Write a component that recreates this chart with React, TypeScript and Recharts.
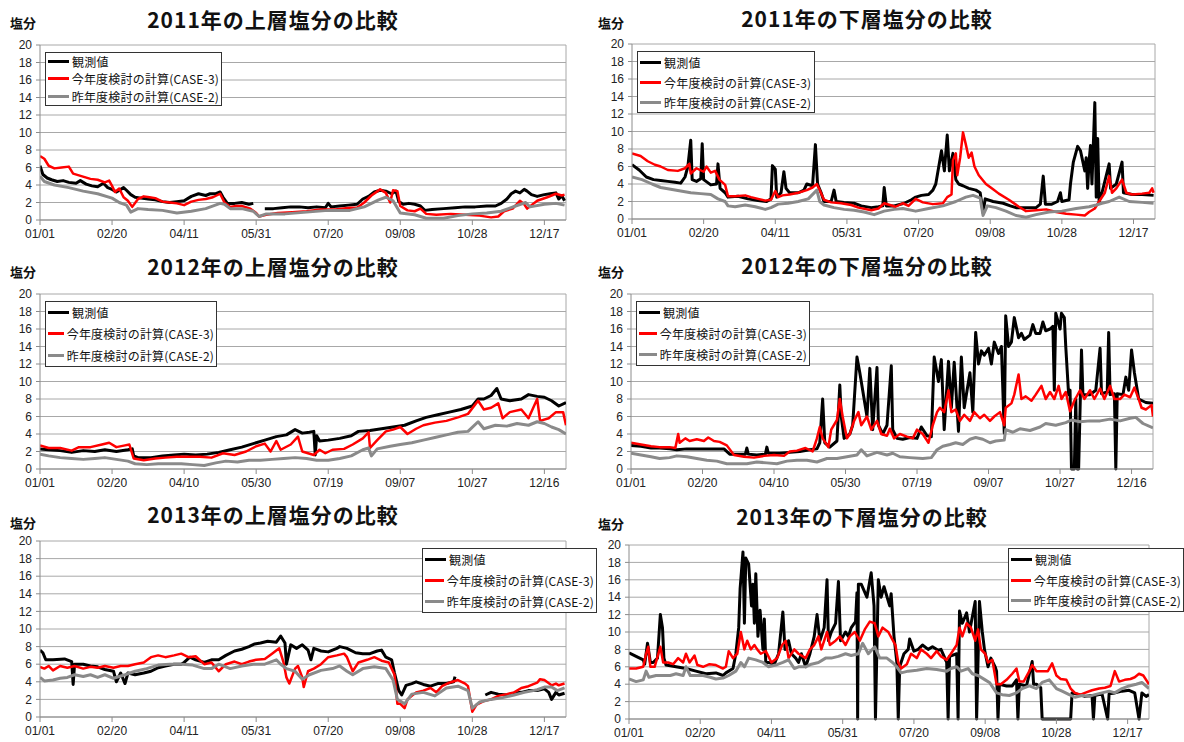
import React from "react";
import {
  LineChart,
  Line,
  XAxis,
  YAxis,
  CartesianGrid,
  Legend,
  ReferenceLine,
} from "recharts";

type Pt = [number, number | null];

// x ticks are every 50 days from 01/01
const xTicks = [0, 50, 100, 150, 200, 250, 300, 350];
const yTicks = [0, 2, 4, 6, 8, 10, 12, 14, 16, 18, 20];
const labels2011 = ["01/01", "02/20", "04/11", "05/31", "07/20", "09/08", "10/28", "12/17"];
const labels2012 = ["01/01", "02/20", "04/10", "05/30", "07/19", "09/07", "10/27", "12/16"];
const labels2013 = ["01/01", "02/20", "04/11", "05/31", "07/20", "09/08", "10/28", "12/17"];

const seriesNames = ["観測値", "今年度検討の計算(CASE-3)", "昨年度検討の計算(CASE-2)"];

// ---- 2011 upper layer
const obs2011U: Pt[] = [[0,6.2],[2,5.2],[5,4.8],[8,4.6],[12,4.4],[16,4.5],[20,4.3],[25,4.2],[28,4.5],[32,4.1],[36,3.9],[40,3.8],[44,4.2],[47,3.7],[50,3.5],[53,3.2],[56,3.5],[58,3.7],[60,3.4],[63,2.9],[66,2.6],[70,2.5],[75,2.4],[80,2.3],[85,2.1],[90,2.0],[95,2.1],[100,2.2],[105,2.7],[110,3.0],[115,2.8],[118,3.0],[122,3.0],[125,3.2],[127,2.6],[130,1.9],[135,1.9],[140,2.0],[145,1.8],[148,1.9],[150,null],[156,1.3],[162,1.3],[168,1.4],[174,1.5],[180,1.5],[186,1.4],[192,1.5],[198,1.4],[200,1.9],[202,1.5],[208,1.6],[214,1.7],[220,1.8],[224,2.4],[228,2.7],[232,3.2],[236,3.4],[240,3.3],[244,3.0],[247,3.3],[249,2.1],[252,1.8],[256,1.9],[260,1.8],[264,1.6],[267,1.1],[272,1.2],[280,1.3],[288,1.4],[295,1.5],[302,1.5],[310,1.6],[316,1.6],[320,1.9],[324,2.4],[327,3.0],[330,3.3],[333,3.1],[336,3.5],[338,3.3],[341,2.9],[345,2.7],[350,2.9],[354,3.0],[358,3.1],[360,2.4],[362,2.8],[364,2.2]];
const cur2011U: Pt[] = [[0,7.3],[3,7.0],[6,6.2],[10,5.9],[15,6.0],[20,6.1],[23,5.3],[27,5.1],[31,4.9],[35,4.7],[40,4.6],[45,4.3],[48,4.5],[50,3.9],[52,3.2],[55,3.6],[58,2.6],[61,2.2],[64,1.5],[68,2.4],[72,2.7],[76,2.6],[80,2.5],[85,2.1],[90,2.0],[95,1.9],[100,1.7],[105,2.1],[110,2.3],[115,2.4],[120,2.6],[125,3.0],[128,2.0],[132,1.5],[136,1.6],[140,1.6],[146,1.3],[150,0.8],[152,0.4],[157,0.6],[165,0.8],[175,0.9],[185,1.0],[195,1.2],[205,1.2],[215,1.4],[220,1.4],[225,2.0],[230,2.8],[236,3.5],[240,3.1],[243,2.0],[245,3.4],[248,3.3],[250,1.6],[255,1.1],[260,1.0],[264,1.3],[268,0.7],[275,0.6],[285,0.7],[295,0.6],[305,0.5],[313,0.3],[318,0.4],[322,1.0],[328,1.3],[333,2.2],[336,1.8],[338,1.3],[345,2.2],[352,2.6],[358,3.0],[362,2.8],[364,2.9]];
const prev2011U: Pt[] = [[0,5.0],[3,4.4],[10,4.0],[20,3.7],[30,3.3],[40,3.0],[50,2.5],[55,2.0],[60,1.7],[63,0.9],[68,1.3],[75,1.2],[85,1.1],[95,0.8],[105,1.0],[115,1.3],[125,1.9],[128,1.8],[132,1.3],[140,1.3],[148,1.0],[152,0.4],[157,0.7],[170,0.7],[185,0.9],[200,1.1],[215,1.1],[225,1.5],[235,2.3],[240,2.6],[245,2.2],[250,0.8],[260,0.6],[268,0.2],[280,0.2],[290,0.5],[300,0.7],[310,0.8],[320,1.0],[330,1.6],[337,2.0],[340,1.5],[350,1.8],[358,1.9],[364,1.7]];

// ---- 2011 lower layer
const obs2011L: Pt[] = [[0,6.2],[5,5.6],[10,4.8],[15,4.5],[20,4.4],[25,4.3],[30,4.2],[34,4.1],[37,4.8],[39,6.0],[41,9.0],[42,4.5],[45,4.3],[48,4.6],[49,8.6],[50,4.5],[55,3.9],[59,4.0],[60,6.3],[61.5,3.5],[65,3.0],[67,2.5],[74,2.6],[81,2.3],[88,2.1],[94,2.0],[97,2.3],[98,6.1],[100,5.7],[101,2.5],[104,3.0],[106,5.4],[107.5,3.5],[110,3.0],[116,3.0],[120,3.3],[122,4.0],[126,3.8],[128,8.5],[129.5,4.0],[132,3.0],[134,2.0],[139,2.0],[141,3.3],[142.5,2.0],[148,1.9],[155,1.8],[160,1.5],[167,1.3],[172,1.4],[175,1.5],[176,3.6],[177.5,1.5],[183,1.5],[190,1.8],[195,2.2],[198,2.5],[202,2.7],[207,2.8],[210,3.3],[212,4.0],[216,7.8],[218,5.5],[220,9.6],[221.5,5.5],[224,7.5],[226,4.5],[228,4.0],[231,3.8],[235,3.5],[240,3.3],[243,3.0],[245,0.7],[246.5,2.3],[252,2.0],[259,1.8],[264,1.5],[268,1.3],[275,1.3],[282,1.3],[285,1.7],[287,4.9],[288.5,1.7],[293,1.7],[297,2.0],[299,3.0],[300,2.0],[305,2.2],[306,4.0],[308,6.5],[311,8.3],[313,7.8],[316,5.5],[317,7.0],[318,3.5],[319,6.6],[320,8.4],[321,4.0],[323,13.3],[324,2.5],[325,9.2],[326,2.0],[328,3.0],[333,6.3],[334,3.5],[338,4.0],[342,6.5],[343,3.0],[349,2.8],[356,2.8],[364,2.7]];
const cur2011L: Pt[] = [[0,7.5],[6,7.2],[11,6.6],[16,6.2],[20,6.0],[25,5.6],[32,5.5],[37,5.8],[40,6.3],[41,5.2],[45,5.8],[50,5.4],[52,6.0],[55,5.3],[58,5.5],[61,4.5],[65,3.9],[67,2.6],[72,2.6],[79,2.7],[83,2.5],[88,2.3],[93,2.1],[97,2.2],[100,3.2],[102,2.5],[105,2.7],[110,2.8],[116,3.0],[122,3.3],[126,3.6],[129,4.0],[131,3.3],[134,2.2],[139,1.9],[146,1.8],[153,1.6],[158,1.3],[167,1.0],[172,1.2],[176,1.8],[180,1.6],[184,1.4],[189,1.8],[193,1.5],[198,2.3],[203,1.9],[210,1.7],[217,1.8],[220,2.5],[223,2.8],[224,6.7],[226,7.5],[227,5.0],[229,7.0],[231,9.9],[233,8.5],[235,7.0],[237,7.6],[239,6.0],[242,5.0],[247,4.0],[252,3.4],[256,2.9],[263,2.2],[270,1.4],[275,0.9],[282,1.0],[289,1.1],[296,0.8],[303,0.6],[310,0.5],[316,0.4],[319,0.8],[323,1.2],[326,2.0],[330,3.0],[333,4.9],[335,3.0],[338,3.5],[342,4.5],[345,3.0],[349,2.8],[356,2.9],[361,3.0],[363,3.5],[364,3.0]];
const prev2011L: Pt[] = [[0,4.8],[7,4.5],[14,4.0],[20,3.6],[27,3.4],[34,3.2],[41,3.0],[48,2.9],[55,2.8],[60,2.3],[65,2.0],[67,1.5],[72,1.4],[79,1.6],[86,1.4],[93,1.1],[97,1.3],[102,1.7],[109,1.8],[116,2.0],[123,2.3],[129,3.3],[131,2.0],[134,1.6],[141,1.3],[148,1.1],[155,1.0],[162,0.8],[169,0.5],[176,0.9],[183,1.1],[189,1.2],[198,0.9],[207,1.2],[217,1.5],[226,2.0],[233,2.5],[238,2.7],[243,2.4],[245,0.4],[248,1.5],[254,1.3],[261,0.9],[268,0.4],[275,0.2],[282,0.5],[291,0.8],[300,0.9],[310,1.2],[319,1.4],[324,1.6],[328,1.8],[333,2.0],[340,2.5],[347,2.0],[356,1.9],[364,1.8]];

// ---- 2012 upper layer
const obs2012U: Pt[] = [[0,2.3],[6,2.2],[14,2.1],[22,1.9],[30,2.1],[38,2.0],[45,2.2],[53,2.0],[61,2.2],[64,2.3],[65,1.5],[68,1.3],[77,1.3],[85,1.5],[93,1.6],[100,1.7],[108,1.6],[116,1.7],[124,1.9],[132,2.2],[140,2.5],[148,2.9],[156,3.3],[164,3.7],[171,3.9],[177,4.5],[182,4.1],[187,4.2],[190,4.3],[191,1.6],[192,3.8],[194,3.2],[200,3.3],[208,3.5],[216,3.8],[221,4.3],[229,4.4],[237,4.6],[245,4.8],[253,5.0],[261,5.5],[268,5.9],[276,6.2],[284,6.5],[292,6.8],[300,7.2],[304,8.0],[308,8.0],[313,8.4],[317,9.2],[320,8.0],[326,7.8],[334,8.0],[339,8.5],[345,8.3],[350,8.2],[355,7.8],[360,7.2],[365,7.6]];
const cur2012U: Pt[] = [[0,2.7],[6,2.4],[14,2.4],[22,2.1],[27,2.5],[35,2.5],[43,2.8],[48,3.0],[53,2.5],[59,2.7],[62,2.8],[65,1.2],[72,1.0],[80,1.2],[87,1.3],[95,1.4],[103,1.4],[111,1.4],[119,1.3],[127,1.8],[135,1.6],[143,2.0],[150,2.6],[156,2.9],[160,2.0],[164,3.2],[167,2.2],[174,2.8],[179,3.7],[182,2.0],[186,1.8],[190,1.6],[194,2.2],[198,1.8],[203,2.2],[211,2.3],[217,2.8],[224,3.5],[228,4.2],[229,2.4],[234,3.3],[240,4.3],[245,4.5],[250,4.8],[255,4.0],[261,4.6],[266,5.0],[274,5.3],[282,5.5],[290,5.9],[297,6.3],[304,7.8],[308,6.8],[313,7.0],[318,7.5],[321,5.8],[326,6.5],[334,6.8],[339,5.8],[345,8.0],[347,5.5],[353,5.8],[358,6.5],[363,6.5],[365,5.0]];
const prev2012U: Pt[] = [[0,1.7],[6,1.5],[14,1.3],[22,1.2],[30,1.1],[38,1.2],[45,1.3],[53,1.1],[61,0.9],[66,0.6],[74,0.5],[82,0.6],[90,0.6],[98,0.6],[106,0.5],[114,0.4],[122,0.7],[129,0.9],[137,0.8],[145,1.0],[153,1.0],[161,1.1],[169,1.2],[177,1.3],[185,1.2],[192,1.0],[200,1.0],[208,1.2],[216,1.5],[224,2.2],[228,2.4],[230,1.5],[234,2.3],[243,2.6],[250,2.8],[258,3.0],[266,3.3],[274,3.6],[282,3.9],[290,4.2],[297,4.3],[304,5.4],[308,4.6],[316,5.0],[324,4.9],[331,5.2],[339,5.0],[345,5.4],[350,5.2],[355,4.8],[360,4.5],[365,4.0]];

// ---- 2012 lower layer
const obs2012L: Pt[] = [[0,2.7],[7,2.6],[14,2.4],[20,2.4],[27,2.3],[32,2.2],[39,2.3],[46,2.3],[53,2.3],[60,2.3],[65,2.3],[69,1.7],[76,1.7],[80,1.7],[81,2.4],[82,1.7],[88,1.6],[94,1.7],[95,2.5],[96,1.8],[104,1.8],[111,1.9],[118,2.0],[125,2.2],[130,2.3],[132,3.0],[134,8.0],[135.5,3.0],[139,2.5],[144,3.2],[146,9.6],[147,6.0],[149,3.5],[153,4.0],[155,5.0],[158,12.8],[160,11.0],[162,9.0],[165,6.0],[167,11.5],[169,4.5],[172,11.6],[173,5.0],[176,4.0],[179,5.0],[182,11.8],[183,4.5],[186,3.5],[190,3.4],[195,3.6],[200,3.5],[203,4.8],[207,3.8],[210,3.7],[212,12.8],[215,10.0],[217,12.5],[219,4.5],[222,12.3],[224,7.0],[226,12.2],[229,4.3],[231,12.8],[233,7.0],[237,11.0],[239,6.5],[241,15.6],[243,12.0],[245,13.5],[247,13.0],[250,13.8],[252,12.0],[254,14.5],[257,13.2],[259,14.0],[261,4.1],[262,17.5],[264,14.0],[266,14.5],[268,17.3],[271,15.0],[273,15.5],[275,14.8],[279,15.3],[281,16.5],[283,15.5],[286,15.5],[288,16.8],[290,15.8],[293,16.0],[295,16.3],[296,9.0],[297,17.8],[300,16.0],[301,17.8],[303,17.3],[304,14.0],[306,8.5],[307,9.0],[308,0],[310,0],[311,8.0],[312,0],[313,0],[315,13.6],[316,8.5],[321,8.5],[325,9.0],[328,13.8],[329,8.6],[333,8.8],[334,15.6],[335,8.5],[338,8.6],[339,0],[340,8.6],[344,8.5],[346,10.5],[348,9.0],[350,13.6],[352,11.0],[355,8.0],[360,7.6],[365,7.5]];
const cur2012L: Pt[] = [[0,3.0],[7,2.8],[14,2.6],[20,2.5],[27,2.5],[31,2.4],[33,4.0],[34,3.0],[38,3.5],[41,3.2],[46,3.4],[51,3.2],[54,3.6],[58,3.2],[62,3.1],[67,2.7],[72,1.6],[79,1.4],[86,1.3],[93,1.5],[100,1.6],[107,1.5],[111,2.0],[116,2.1],[122,2.4],[127,2.0],[130,3.5],[132,4.8],[134,3.5],[138,2.5],[140,4.5],[144,5.6],[146,8.0],[148,6.0],[151,3.5],[153,4.0],[156,5.5],[159,6.5],[161,5.0],[165,6.0],[168,4.5],[172,5.5],[175,4.0],[179,3.8],[181,4.6],[184,3.5],[188,4.0],[193,3.7],[197,3.5],[200,4.5],[204,4.0],[208,3.0],[211,5.0],[214,6.5],[216,7.0],[219,6.5],[222,9.0],[224,6.5],[227,6.8],[230,5.5],[233,6.2],[237,5.5],[240,6.5],[244,5.8],[247,6.2],[251,5.5],[254,6.0],[258,6.5],[261,5.0],[262,7.0],[266,7.5],[268,8.5],[271,10.8],[273,8.0],[276,8.3],[280,7.8],[283,8.5],[287,9.5],[290,8.0],[293,8.8],[296,8.0],[299,9.5],[301,8.0],[304,8.8],[307,6.6],[310,7.8],[314,9.0],[317,8.0],[321,9.0],[324,8.0],[328,9.2],[331,8.0],[335,9.5],[338,8.0],[342,8.0],[345,8.5],[349,8.2],[352,9.3],[355,8.0],[357,7.0],[360,6.8],[364,7.3],[365,6.0]];
const prev2012L: Pt[] = [[0,1.8],[7,1.6],[14,1.4],[20,1.2],[27,1.3],[32,1.5],[39,1.4],[46,1.2],[53,1.0],[60,0.9],[67,0.6],[74,0.6],[81,0.6],[88,0.8],[95,0.7],[102,0.6],[109,0.9],[116,1.0],[123,1.0],[130,0.8],[137,1.2],[144,1.2],[151,1.4],[158,1.6],[161,2.2],[165,1.5],[172,1.9],[179,1.6],[183,1.8],[188,1.4],[195,1.3],[204,1.2],[210,1.3],[214,2.2],[218,2.6],[223,2.8],[227,3.0],[232,2.8],[237,3.4],[241,3.6],[246,3.4],[251,3.0],[255,3.2],[261,3.3],[262,4.5],[267,4.2],[272,4.6],[279,4.4],[286,4.8],[290,5.2],[297,5.0],[304,5.3],[308,5.6],[314,5.4],[321,5.5],[328,5.5],[335,5.7],[342,5.5],[349,5.8],[353,5.9],[358,5.2],[365,4.7]];

// ---- 2013 upper layer
const obs2013U: Pt[] = [[0,7.6],[2,7.3],[4,6.5],[9,6.5],[17,6.6],[22,6.3],[23,3.7],[24,6.0],[30,6.0],[35,5.8],[40,5.7],[45,5.4],[51,5.2],[53,4.0],[56,5.0],[59,3.8],[61,5.0],[66,4.8],[72,5.0],[77,5.2],[82,5.6],[87,5.8],[93,6.0],[98,6.0],[100,6.2],[104,6.8],[108,6.5],[114,6.2],[119,6.5],[124,6.5],[129,7.0],[135,7.5],[140,7.7],[145,8.0],[149,8.3],[153,8.4],[158,8.6],[164,8.5],[167,9.2],[170,8.4],[171,6.0],[174,8.2],[178,7.8],[182,8.2],[186,7.6],[188,6.5],[190,7.8],[195,7.5],[200,7.4],[206,7.8],[208,8.0],[213,7.8],[219,7.3],[224,7.2],[229,7.2],[234,7.5],[237,7.6],[240,6.8],[244,6.5],[246,5.0],[249,3.0],[251,2.5],[254,3.6],[258,3.8],[261,4.0],[266,3.7],[271,3.5],[276,3.8],[282,3.8],[287,4.0],[288,4.6],[289,null],[309,2.5],[313,2.8],[318,2.6],[324,2.5],[329,2.7],[334,2.8],[339,3.0],[345,3.0],[350,3.2],[353,2.8],[355,2.0],[358,2.8],[360,2.5],[364,2.7]];
const cur2013U: Pt[] = [[0,5.7],[3,5.5],[6,5.8],[9,5.3],[14,5.8],[19,5.6],[24,5.8],[30,5.5],[35,5.7],[40,5.6],[45,5.8],[51,5.6],[56,5.8],[61,5.8],[66,6.0],[72,6.2],[77,6.8],[82,7.0],[87,6.8],[93,7.0],[98,7.2],[103,6.8],[108,6.9],[114,6.0],[119,6.2],[124,5.2],[129,6.0],[135,6.3],[140,6.0],[145,6.3],[150,6.5],[156,6.6],[161,7.2],[166,7.8],[169,6.2],[171,4.5],[173,3.8],[177,5.5],[179,5.8],[182,4.5],[183,3.4],[186,5.2],[190,5.5],[195,6.0],[200,6.8],[206,7.0],[211,7.2],[213,6.8],[217,5.2],[221,6.2],[227,6.5],[232,6.8],[237,6.4],[242,6.2],[246,4.8],[248,1.5],[250,1.5],[253,1.0],[255,2.0],[261,2.8],[266,3.0],[271,3.3],[275,2.8],[279,3.5],[284,3.9],[290,4.2],[295,3.8],[297,3.5],[300,0.6],[303,1.4],[308,1.8],[313,2.0],[318,2.4],[324,2.6],[329,2.8],[334,3.3],[339,3.5],[345,3.9],[347,4.3],[350,4.2],[355,3.6],[358,3.8],[360,3.6],[364,3.8]];
const prev2013U: Pt[] = [[0,4.5],[3,4.1],[9,4.2],[14,4.4],[19,4.5],[24,4.8],[30,4.6],[35,4.8],[40,4.5],[45,4.8],[51,4.4],[59,4.8],[66,5.2],[74,5.5],[82,5.9],[90,6.0],[98,6.0],[106,5.9],[114,5.5],[119,5.5],[124,6.0],[132,5.5],[140,5.8],[148,6.0],[156,6.0],[164,6.5],[167,6.0],[171,5.5],[177,5.2],[182,4.3],[187,4.8],[195,5.3],[203,5.5],[208,5.8],[213,5.2],[217,4.8],[224,5.5],[232,5.7],[240,5.5],[245,4.2],[248,2.0],[253,1.5],[258,2.6],[266,2.8],[274,2.4],[282,3.3],[290,3.5],[297,3.0],[300,1.0],[305,1.7],[313,2.0],[321,2.2],[329,2.5],[336,2.8],[345,3.1],[350,3.4],[355,3.4],[359,3.0],[364,3.3]];

// ---- 2013 lower layer
const obs2013L: Pt[] = [[0,7.6],[5,7.2],[10,6.8],[11,6.3],[13,8.7],[15,6.5],[17,6.5],[20,7.0],[22,12.0],[23.5,10.5],[24.5,7.0],[26,6.2],[33,6.0],[40,5.8],[47,5.5],[54,5.2],[61,5.3],[66,5.0],[68,5.3],[73,5.8],[75,7.5],[77,10.5],[78,15.0],[80,19.2],[81,11.0],[82,18.5],[84,17.8],[86,13.0],[87,15.5],[88,11.0],[89,16.7],[90.5,9.5],[92,12.5],[94,8.0],[95,11.5],[96,6.5],[98,6.5],[102,6.3],[105,7.5],[108,12.3],[109.5,8.0],[112,9.0],[114,7.5],[117,7.0],[119,6.5],[121,7.5],[124,6.0],[127,7.5],[130,9.5],[132,12.0],[134,9.0],[137,10.5],[139,16.0],[140,9.0],[142,10.0],[145,11.0],[147,15.8],[148.5,9.0],[152,10.0],[154,9.5],[156,10.5],[159,11.2],[160,14.5],[160.5,0],[161,15.5],[163,15.5],[167,14.0],[170,16.8],[172,13.0],[173,0],[175,16.0],[177,14.0],[179,15.2],[183,13.0],[184,14.4],[186,9.5],[188,6.5],[189,0],[190,6.0],[193,7.5],[196,8.0],[197,9.2],[200,7.8],[203,8.0],[206,8.5],[210,8.0],[213,8.3],[217,7.9],[219,8.0],[223,6.5],[224,0],[225,7.2],[230,7.5],[231,0],[232,12.4],[234,11.0],[237,12.2],[239,10.0],[243,13.5],[244,0],[246,13.5],[248,10.0],[249.5,8.0],[252,6.0],[254,7.0],[257,6.0],[258,5.5],[259,0],[260,4.0],[265,3.8],[269,3.8],[272,4.5],[273,0],[274,4.0],[279,3.8],[283,6.6],[284,4.0],[286,4.0],[289,3.6],[290,0],[310,0],[311,3.0],[316,2.8],[320,2.6],[325,2.7],[326,0],[327,2.7],[332,2.9],[336,0],[337,2.9],[341,3.0],[346,3.2],[351,3.3],[355,3.0],[358,0],[360,3.0],[363,2.6],[365,2.8]];
const cur2013L: Pt[] = [[0,5.8],[5,5.8],[10,6.0],[12,7.5],[13.5,8.3],[15,6.0],[18,6.0],[22,8.3],[24,6.5],[27.5,6.5],[31,6.3],[34.5,7.0],[38,6.5],[40,7.5],[42.5,6.5],[46,7.3],[48,6.2],[52,6.0],[56.5,6.3],[61,6.2],[66,5.8],[68,6.0],[70,7.8],[73,7.0],[76,7.5],[78.5,10.0],[81,8.0],[83,9.0],[85.5,8.0],[88,8.5],[90,8.0],[92.5,7.5],[96,7.8],[100,6.5],[104,7.0],[107.5,8.5],[110,9.0],[112,7.0],[116,8.0],[119,7.5],[124,7.0],[127,8.0],[130,8.5],[133,9.5],[135,8.0],[139,10.0],[141,8.5],[145,9.0],[148,9.5],[152,8.5],[155,9.5],[158.5,10.0],[162,9.0],[165.5,10.3],[169,11.2],[172.5,11.0],[175,9.5],[178,10.5],[182,10.0],[187,8.5],[189,6.5],[191,5.8],[195,6.3],[198,7.5],[202,7.0],[205,8.0],[209,7.5],[212,7.0],[216,7.8],[219,7.2],[223,6.8],[226,7.5],[230,8.5],[232,10.5],[234,9.5],[237,11.0],[240,10.5],[243,9.0],[245,10.3],[247,8.0],[250,7.5],[252,6.5],[255,6.8],[258,4.0],[261,4.0],[265,4.5],[269,5.2],[272,5.8],[274,4.3],[277,4.3],[281,5.5],[283,6.2],[286,5.5],[290,5.5],[294,5.5],[297,6.4],[300,5.0],[303,4.6],[307,4.5],[310,3.5],[313,3.0],[317,2.8],[320,3.0],[325,3.3],[330,3.5],[334,3.6],[338,3.8],[341,5.5],[344,4.3],[348,4.5],[352,4.6],[355,4.8],[358,5.2],[361,5.0],[365,4.0]];
const prev2013L: Pt[] = [[0,4.6],[5,4.3],[10,4.5],[12,5.5],[14,4.8],[19,5.0],[24,5.0],[29,5.0],[33,5.2],[38,5.0],[40,6.0],[43,5.0],[47,5.0],[52,5.0],[57,4.8],[61,4.6],[66,4.7],[70,5.0],[75,5.5],[78.5,6.5],[81,6.0],[84,7.0],[89,6.8],[94,6.5],[98,6.0],[103,6.2],[108,6.5],[112,6.8],[116,5.8],[119,6.0],[124,6.0],[128,6.3],[133,6.5],[138,7.0],[142,7.0],[147,7.2],[152,7.5],[156,7.3],[161,7.5],[164,8.7],[168,7.5],[172.5,8.3],[176,7.0],[181,7.0],[185,6.5],[188,6.0],[191,5.3],[196,5.5],[202,5.6],[209,5.8],[216,5.7],[223,5.5],[226,5.8],[230,6.0],[233,5.5],[238,5.8],[241,5.2],[245,5.0],[250,4.5],[253,4.2],[258,3.0],[262,2.8],[267,2.7],[272,3.0],[276,3.5],[281,3.8],[286,3.5],[290,4.2],[295,4.5],[300,3.5],[304,3.2],[309,2.8],[313,2.5],[318,2.7],[323,2.6],[327,2.8],[332,3.0],[337,3.2],[341,3.0],[346,3.5],[351,3.8],[356,4.0],[360,4.2],[365,3.5]];

const toRows = (pts: Pt[]) => pts.map(([d, v]) => ({ d, v }));

const jpFont = '"Noto Sans CJK JP", "Noto Sans", sans-serif';
const numFont = '"Liberation Sans", Arial, sans-serif';

function LegendBox(props: any) {
  const items = [...(props.payload || [])].sort(
    (a: any, b: any) => seriesNames.indexOf(a.value) - seriesNames.indexOf(b.value)
  );
  return (
    <div
      style={{
        width: "100%",
        height: "100%",
        boxSizing: "border-box",
        border: "1px solid #333",
        background: "#fff",
        display: "flex",
        flexDirection: "column",
        padding: "0 2px",
      }}
    >
      {items.map((it: any) => (
        <div key={it.value} style={{ flex: 1, display: "flex", alignItems: "center" }}>
          <span style={{ display: "inline-block", width: 21, height: 3, background: it.color, marginRight: 3 }} />
          <span style={{ fontFamily: jpFont, fontSize: 12, color: "#111", whiteSpace: "nowrap", letterSpacing: 0.2 }}>
            {it.value}
          </span>
        </div>
      ))}
    </div>
  );
}

interface PanelProps {
  title: string;
  labels: string[];
  obs: Pt[];
  cur: Pt[];
  prev: Pt[];
  left: number;
  top: number;
  w: number;
  h: number;
  legend: { x: number; y: number; w: number; h: number };
  titleX: number;
  titleY: number;
  unitX: number;
  unitY: number;
}

function Panel(p: PanelProps) {
  return (
    <>
      <div
        style={{
          position: "absolute",
          left: p.titleX,
          top: p.titleY,
          transform: "translate(-50%, -50%)",
          fontFamily: jpFont,
          fontWeight: 700,
          fontSize: 21,
          letterSpacing: 1,
          whiteSpace: "nowrap",
          color: "#111",
        }}
      >
        {p.title}
      </div>
      <div
        style={{
          position: "absolute",
          left: p.unitX,
          top: p.unitY - 9,
          fontFamily: jpFont,
          fontWeight: 700,
          fontSize: 13,
          color: "#111",
        }}
      >
        塩分
      </div>
      <div style={{ position: "absolute", left: p.left - 40, top: p.top - 10 }}>
        <LineChart width={p.w + 50} height={p.h + 40} margin={{ top: 10, right: 10, bottom: 0, left: 10 }}>
          <CartesianGrid vertical={false} stroke="#a8a8a8" />
          <XAxis
            type="number"
            dataKey="d"
            domain={[0, 365]}
            ticks={xTicks}
            interval={0}
            allowDataOverflow
            height={30}
            tickSize={5}
            tickMargin={4}
            stroke="#8c8c8c"
            tick={{ fill: "#222", fontSize: 12, fontFamily: numFont }}
            tickFormatter={(v: number) => p.labels[xTicks.indexOf(v)]}
          />
          <YAxis
            type="number"
            domain={[0, 20]}
            ticks={yTicks}
            interval={0}
            width={30}
            tickSize={4}
            tickMargin={4}
            stroke="#8c8c8c"
            tick={{ fill: "#222", fontSize: 12, fontFamily: numFont }}
          />
          <ReferenceLine x={365} stroke="#a8a8a8" />
          <Legend
            layout="vertical"
            align="center"
            verticalAlign="middle"
            content={LegendBox}
            wrapperStyle={{ left: p.legend.x, top: p.legend.y, width: p.legend.w, height: p.legend.h, bottom: "auto", right: "auto" }}
          />
          <Line
            data={toRows(p.obs)}
            dataKey="v"
            name={seriesNames[0]}
            type="linear"
            stroke="#000000"
            strokeWidth={3}
            strokeLinejoin="round"
            dot={false}
            isAnimationActive={false}
          />
          <Line
            data={toRows(p.cur)}
            dataKey="v"
            name={seriesNames[1]}
            type="linear"
            stroke="#ff0000"
            strokeWidth={2.5}
            strokeLinejoin="round"
            dot={false}
            isAnimationActive={false}
          />
          <Line
            data={toRows(p.prev)}
            dataKey="v"
            name={seriesNames[2]}
            type="linear"
            stroke="#8a8a8a"
            strokeWidth={3}
            strokeLinejoin="round"
            dot={false}
            isAnimationActive={false}
          />
        </LineChart>
      </div>
    </>
  );
}

export default function App() {
  return (
    <div
      style={{
        position: "absolute",
        left: 0,
        top: 0,
        width: 1184,
        height: 742,
        overflow: "hidden",
        background: "#fff",
      }}
    >
      <Panel title="2011年の上層塩分の比較" labels={labels2011} obs={obs2011U} cur={cur2011U} prev={prev2011U}
        left={40} top={45} w={526} h={175} legend={{ x: 45, y: 17, w: 177, h: 54 }}
        titleX={273} titleY={19} unitX={10} unitY={22} />
      <Panel title="2011年の下層塩分の比較" labels={labels2011} obs={obs2011L} cur={cur2011L} prev={prev2011L}
        left={632} top={44} w={523} h={175} legend={{ x: 45, y: 17, w: 178, h: 62 }}
        titleX={867} titleY={18} unitX={598} unitY={22} />
      <Panel title="2012年の上層塩分の比較" labels={labels2012} obs={obs2012U} cur={cur2012U} prev={prev2012U}
        left={40} top={294} w={526} h={175} legend={{ x: 45, y: 17, w: 172, h: 66 }}
        titleX={273} titleY={266} unitX={10} unitY={271} />
      <Panel title="2012年の下層塩分の比較" labels={labels2012} obs={obs2012L} cur={cur2012L} prev={prev2012L}
        left={631} top={294} w={522} h={175} legend={{ x: 45, y: 17, w: 174, h: 65 }}
        titleX={867} titleY={265} unitX={598} unitY={271} />
      <Panel title="2013年の上層塩分の比較" labels={labels2013} obs={obs2013U} cur={cur2013U} prev={prev2013U}
        left={40} top={541} w={526} h={176} legend={{ x: 422, y: 17, w: 175, h: 65 }}
        titleX={273} titleY={514} unitX={10} unitY={522} />
      <Panel title="2013年の下層塩分の比較" labels={labels2013} obs={obs2013L} cur={cur2013L} prev={prev2013L}
        left={629} top={545} w={520} h={174} legend={{ x: 419, y: 13, w: 176, h: 64 }}
        titleX={862} titleY={516} unitX={598} unitY={523} />
    </div>
  );
}
